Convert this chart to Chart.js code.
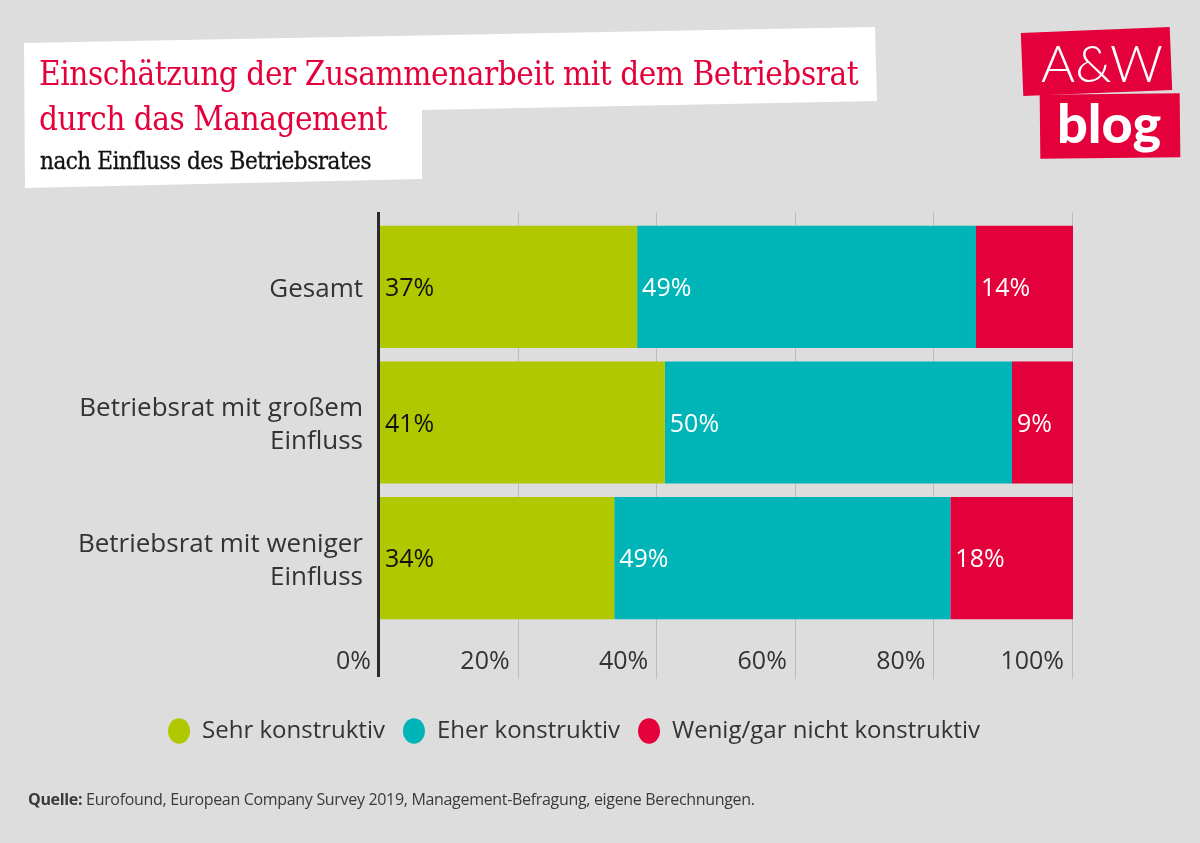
<!DOCTYPE html>
<html>
<head>
<meta charset="utf-8">
<script src="https://cdn.jsdelivr.net/npm/chart.js@4.4.1/dist/chart.umd.min.js"></script>
<style>
  html, body { margin:0; padding:0; background:#dddddd; }
  body { width:1200px; height:843px; position:relative; overflow:hidden; font-family:"Open Sans", sans-serif; }
  #chartWrap { position:absolute; left:0; top:0; width:1200px; height:843px; }
  #titleShape { position:absolute; left:0; top:0; }
  .t1, .t2, .sub { position:absolute; white-space:nowrap; font-family:"DejaVu Serif Condensed","DejaVu Serif",serif; }
  .t1, .t2 { color:#e4003b; font-size:33px; left:39px; letter-spacing:-0.45px; }
  .t1 { top:54px; }
  .t2 { top:99px; }
  .sub { color:#111; font-size:24px; left:40px; top:147px; letter-spacing:-0.5px; -webkit-text-stroke:0.3px #111; }
  .logo1 { position:absolute; left:1022px; top:30px; width:149px; height:63px; background:#e4003b; transform:rotate(-2.3deg); }
  .logo2 { position:absolute; left:1040px; top:94px; width:140px; height:64px; background:#e4003b; transform:rotate(-0.6deg); }
  .logoA { position:absolute; left:1040px; top:32px; width:124px; text-align:center; color:#fff; font-family:"Lato",sans-serif; font-weight:300; font-size:52px; line-height:60px; }
  .logoB { position:absolute; left:1046px; top:92px; width:126px; text-align:center; color:#fff; font-family:"Lato",sans-serif; font-weight:900; font-size:54px; line-height:62px; }
  .source { position:absolute; left:28px; top:788px; font-size:16px; color:#3a3a3a; letter-spacing:-0.32px; white-space:nowrap; }
  .source b { font-weight:700; }
</style>
</head>
<body>
<div id="chartWrap"><canvas id="c" width="1200" height="843"></canvas></div>
<svg id="titleShape" width="900" height="200">
  <polygon points="24,43 875,27 877,101 422,110 422,179 25,188" fill="#ffffff"/>
</svg>
<div class="t1">Einschätzung der Zusammenarbeit mit dem Betriebsrat</div>
<div class="t2">durch das Management</div>
<div class="sub">nach Einfluss des Betriebsrates</div>
<div class="logo1"></div>
<div class="logo2"></div>
<div class="logoA">A&amp;W</div>
<div class="logoB">blog</div>
<div class="source"><b>Quelle:</b> Eurofound, European Company Survey 2019, Management-Befragung, eigene Berechnungen.</div>
<script>
// ---- data ----
const categories = ['Gesamt', ['Betriebsrat mit großem', 'Einfluss'], ['Betriebsrat mit weniger', 'Einfluss']];
const seriesNames = ['Sehr konstruktiv', 'Eher konstruktiv', 'Wenig/gar nicht konstruktiv'];
const sehrKonstruktiv = [37.1, 41.1, 33.8];
const eherKonstruktiv = [48.9, 50.1, 48.5];
const wenigKonstruktiv = [14.0, 8.8, 17.7];
const tickValues = [0, 20, 40, 60, 80, 100];
const tickLabels = ['0%', '20%', '40%', '60%', '80%', '100%'];

const colors = ['#afc800', '#00b5b8', '#e4003b'];
const labelColors = ['#111111', '#ffffff', '#ffffff'];

const gridPlugin = {
  id: 'gridPlugin',
  beforeDatasetsDraw(chart) {
    const {ctx, chartArea, scales} = chart;
    ctx.save();
    ctx.strokeStyle = '#bdbdbd';
    ctx.lineWidth = 1;
    tickValues.forEach(v => {
      if (v === 0) return;
      const x = Math.round(scales.x.getPixelForValue(v)) - 0.5;
      ctx.beginPath();
      ctx.moveTo(x, chartArea.top - 7);
      ctx.lineTo(x, chartArea.bottom + 53);
      ctx.stroke();
    });
    ctx.restore();
  },
  afterDatasetsDraw(chart) {
    const {ctx, chartArea, scales} = chart;
    ctx.save();
    ctx.font = '25px "Open Sans", sans-serif';
    ctx.textBaseline = 'middle';
    ctx.textAlign = 'left';
    chart.data.datasets.forEach((ds, di) => {
      const meta = chart.getDatasetMeta(di);
      meta.data.forEach((bar, i) => {
        ctx.fillStyle = labelColors[di];
        const left = Math.min(bar.x, bar.base);
        ctx.fillText(Math.round(ds.data[i]) + '%', left + 5, bar.y + 2);
      });
    });
    const x0 = scales.x.getPixelForValue(0);
    ctx.strokeStyle = '#2b2b2b';
    ctx.lineWidth = 3;
    ctx.beginPath();
    ctx.moveTo(x0 - 1.5, chartArea.top - 7);
    ctx.lineTo(x0 - 1.5, chartArea.bottom + 51);
    ctx.stroke();
    ctx.restore();
  }
};

new Chart(document.getElementById('c'), {
  type: 'bar',
  data: {
    labels: categories,
    datasets: [
      { label: seriesNames[0], data: sehrKonstruktiv, backgroundColor: colors[0] },
      { label: seriesNames[1], data: eherKonstruktiv, backgroundColor: colors[1] },
      { label: seriesNames[2], data: wenigKonstruktiv, backgroundColor: colors[2] }
    ]
  },
  options: {
    indexAxis: 'y',
    responsive: false,
    animation: false,
    events: [],
    datasets: { bar: { barPercentage: 0.9, categoryPercentage: 1.0, borderWidth: 0 } },
    layout: { padding: { top: 219, right: 52, left: 0, bottom: 90 } },
    scales: {
      x: {
        stacked: true, min: 0, max: 100,
        grid: { display: false }, border: { display: false },
        afterBuildTicks: s => { s.ticks = tickValues.map(v => ({ value: v })); },
        afterFit: s => { s.height = 75; },
        ticks: {
          callback: (v, i) => tickLabels[i],
          align: 'end', labelOffset: -9, padding: 13, maxRotation: 0, autoSkip: false,
          color: '#333', font: { family: '"Open Sans", sans-serif', size: 25 }
        }
      },
      y: {
        stacked: true,
        grid: { display: false }, border: { display: false },
        afterFit: s => { s.width = 380; },
        ticks: { color: '#333', padding: 9, labelOffset: 3, font: { family: '"Open Sans", sans-serif', size: 26, lineHeight: 1.27 } }
      },
      r: {
        type: 'linear', position: 'right', display: true,
        grid: { display: false }, border: { display: false },
        ticks: { display: false },
        afterFit: s => { s.width = 75; }
      }
    },
    plugins: {
      legend: {
        position: 'bottom',
        labels: {
          usePointStyle: true, pointStyle: 'circle', pointStyleWidth: 22, boxHeight: 18,
          padding: 18, color: '#333',
          font: { family: '"Open Sans", sans-serif', size: 24 }
        }
      },
      tooltip: { enabled: false }
    }
  },
  plugins: [gridPlugin]
});
</script>
</body>
</html>
